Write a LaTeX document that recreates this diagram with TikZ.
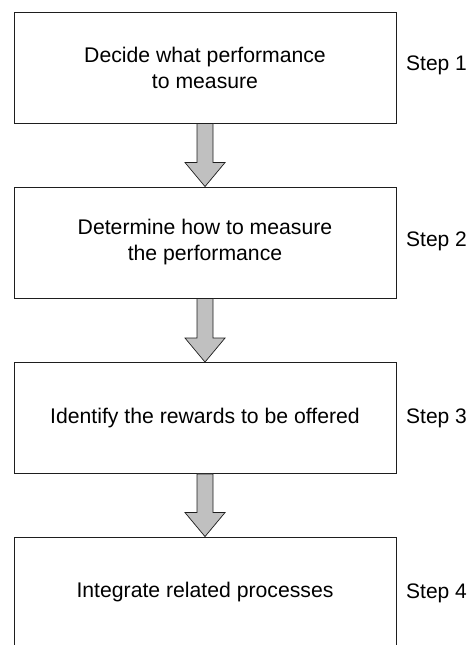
\documentclass[tikz,border=0pt]{standalone}
\usepackage{fontspec}
\setmainfont{Liberation Sans}
\usetikzlibrary{calc}
\definecolor{arrowgray}{RGB}{192,192,192}
\definecolor{inkline}{RGB}{30,30,30}
\tikzset{
  stepbox/.style={draw=inkline, line width=0.9pt, minimum width=382pt, minimum height=111pt,
    inner sep=0pt, align=center, font=\fontsize{21.2}{26}\selectfont},
  steplabel/.style={anchor=base west, inner sep=0pt, font=\fontsize{21}{24}\selectfont},
  blockarrow/.style={draw=inkline, line width=0.7pt, fill=arrowgray, line join=miter}
}
\newcommand{\fatarrow}[2]{%
  \path[blockarrow] let \p1=(#1.south), \p2=(#2.north) in
    (\x1-8pt,\y1) -- (\x1+8pt,\y1) -- (\x1+8pt,\y2+24pt) -- (\x1+20pt,\y2+24pt)
    -- (\x2,\y2) -- (\x1-20pt,\y2+24pt) -- (\x1-8pt,\y2+24pt) -- cycle;}
\begin{document}
\begin{tikzpicture}[x=1pt,y=-1pt]
\useasboundingbox (0,0) rectangle (472,645);
\clip (0,0) rectangle (472,645);
\node[stepbox] (b1) at (205,67.5) {Decide what performance\\to measure};
\node[stepbox] (b2) at (205,242.5) {Determine how to measure\\the performance};
\node[stepbox] (b3) at (205,418) {Identify the rewards to be offered};
\node[stepbox] (b4) at (205,592.5) {Integrate related processes};
\node[steplabel] (s1) at (406,70.5) {Step 1};
\node[steplabel] (s2) at (406,246) {Step 2};
\node[steplabel] (s3) at (406,423) {Step 3};
\node[steplabel] (s4) at (406,598) {Step 4};
\fatarrow{b1}{b2}
\fatarrow{b2}{b3}
\fatarrow{b3}{b4}
\end{tikzpicture}
\end{document}
